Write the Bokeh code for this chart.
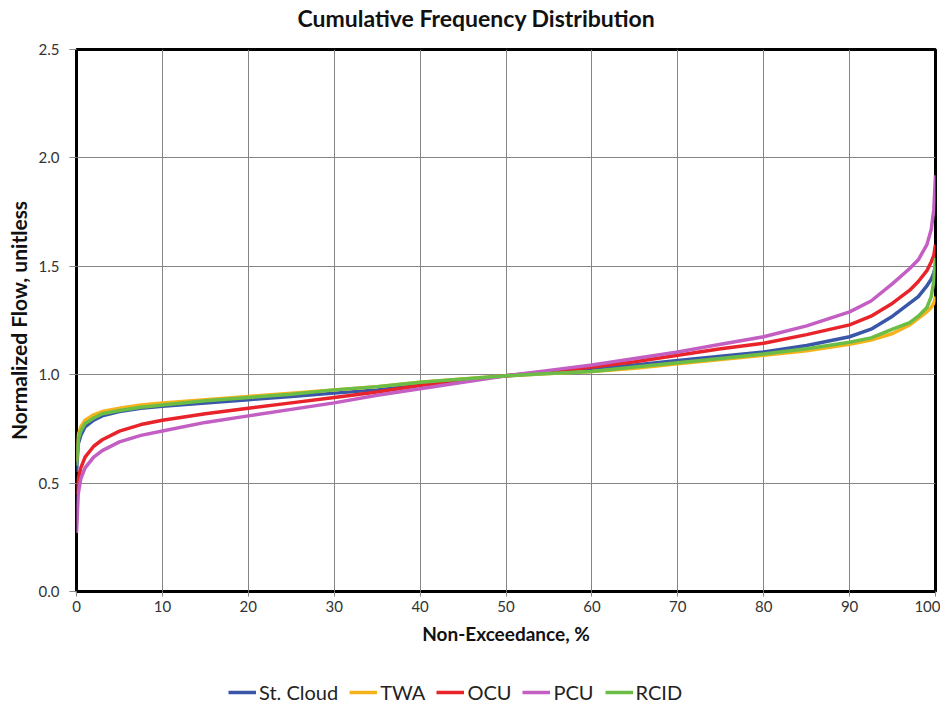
from bokeh.plotting import figure
from bokeh.layouts import column
from bokeh.models import Legend, LegendItem, NumeralTickFormatter, FixedTicker, Title
from bokeh.embed import file_html
from bokeh.resources import INLINE

pct = [0, 0.2, 0.5, 1, 2, 3, 5, 7.5, 10, 15, 20, 25, 30, 35, 40, 45, 50, 55, 60,
       65, 70, 75, 80, 85, 90, 92.5, 95, 97, 98, 99, 99.5, 99.8, 100]

st_cloud = [0.55, 0.68, 0.72, 0.76, 0.79, 0.81, 0.83, 0.845, 0.855, 0.87, 0.885, 0.90, 0.915,
            0.93, 0.955, 0.975, 0.995, 1.01, 1.025, 1.045, 1.065, 1.085, 1.105, 1.135, 1.175,
            1.21, 1.27, 1.33, 1.36, 1.41, 1.44, 1.47, 1.50]
twa = [0.60, 0.72, 0.76, 0.79, 0.815, 0.83, 0.845, 0.86, 0.87, 0.885, 0.90, 0.915, 0.93,
       0.945, 0.965, 0.98, 0.995, 1.005, 1.015, 1.03, 1.05, 1.07, 1.09, 1.11, 1.14,
       1.16, 1.19, 1.23, 1.26, 1.29, 1.31, 1.33, 1.36]
ocu = [0.45, 0.52, 0.57, 0.62, 0.67, 0.70, 0.74, 0.77, 0.79, 0.82, 0.845, 0.87, 0.895,
       0.92, 0.95, 0.975, 0.995, 1.015, 1.035, 1.06, 1.09, 1.12, 1.145, 1.185, 1.23,
       1.27, 1.33, 1.39, 1.43, 1.48, 1.52, 1.55, 1.60]
pcu = [0.27, 0.45, 0.52, 0.57, 0.62, 0.65, 0.69, 0.72, 0.74, 0.78, 0.81, 0.84, 0.87,
       0.905, 0.935, 0.965, 0.995, 1.02, 1.045, 1.075, 1.105, 1.14, 1.175, 1.225, 1.29,
       1.34, 1.42, 1.49, 1.53, 1.60, 1.67, 1.76, 1.92]
rcid = [0.58, 0.70, 0.74, 0.775, 0.80, 0.82, 0.835, 0.85, 0.86, 0.88, 0.895, 0.91, 0.93,
        0.945, 0.965, 0.98, 0.995, 1.005, 1.015, 1.035, 1.055, 1.075, 1.095, 1.12, 1.15,
        1.17, 1.21, 1.24, 1.27, 1.31, 1.36, 1.43, 1.54]

series_names = ["St. Cloud", "TWA", "OCU", "PCU", "RCID"]
series_vals = [st_cloud, twa, ocu, pcu, rcid]
colors = ["#3A56A8", "#F6B21B", "#E8232A", "#C35EC3", "#6CBD45"]

x_ticks = list(range(0, 101, 10))
y_ticks = [0.0, 0.5, 1.0, 1.5, 2.0, 2.5]

FONT = "Lato"

# ---------------- main chart ----------------
p = figure(width=940, height=652,
           x_range=(0, 100), y_range=(0, 2.5),
           output_backend="svg", toolbar_location=None,
           min_border_left=76, min_border_right=5, min_border_top=49, min_border_bottom=61)

p.add_layout(Title(text=" ", text_font_size="1px", standoff=15), "above")
p.add_layout(Title(text="Cumulative Frequency Distribution", align="left", offset=221,
                   standoff=0, text_font=FONT, text_font_size="23px",
                   text_font_style="bold", text_color="#111111"), "above")

p.outline_line_color = "black"
p.outline_line_width = 3
p.outline_line_alpha = 1

p.xaxis.ticker = FixedTicker(ticks=x_ticks)
p.yaxis.ticker = FixedTicker(ticks=y_ticks)
p.yaxis.formatter = NumeralTickFormatter(format="0.0")

for ax in (p.xaxis[0], p.yaxis[0]):
    ax.axis_line_color = None
    ax.major_tick_line_color = "#888888"
    ax.major_tick_in = 0
    ax.minor_tick_line_color = None
    ax.major_label_text_font = FONT
    ax.major_label_text_font_size = "15px"
    ax.major_label_text_color = "#333333"
    ax.axis_label_text_font = FONT
    ax.axis_label_text_font_style = "bold"
    ax.axis_label_text_color = "#111111"

p.xaxis.axis_label = "Non-Exceedance, %"
p.yaxis.axis_label = "Normalized Flow, unitless"
p.xaxis.axis_label_text_font_size = "19px"
p.yaxis.axis_label_text_font_size = "21px"
p.xaxis.major_tick_out = 5
p.yaxis.major_tick_out = 7
p.xaxis.major_label_standoff = 4
p.xaxis.axis_label_standoff = 7
p.yaxis.major_label_standoff = 10
p.yaxis.axis_label_standoff = 5

p.xgrid.grid_line_color = "#858585"
p.ygrid.grid_line_color = "#858585"
p.xgrid.grid_line_width = 1
p.ygrid.grid_line_width = 1

for name, vals, c in zip(series_names, series_vals, colors):
    p.line(pct, vals, line_color=c, line_width=3.5)

# ---------------- legend strip ----------------
leg = figure(width=940, height=52, x_range=(200, 300), y_range=(200, 300),
             output_backend="svg", toolbar_location=None,
             x_axis_type=None, y_axis_type=None,
             min_border_left=0, min_border_right=0, min_border_top=0, min_border_bottom=0)
leg.outline_line_color = None
leg.xgrid.visible = False
leg.ygrid.visible = False

items = []
for name, vals, c in zip(series_names, series_vals, colors):
    r = leg.line(pct, vals, line_color=c, line_width=3.5)
    items.append(LegendItem(label=name, renderers=[r]))

legend = Legend(items=items, orientation="horizontal", location=(152, 0),
                label_text_font=FONT, label_text_font_size="20px",
                label_text_color="#222222", glyph_width=28, glyph_height=20,
                spacing=11, border_line_color=None, background_fill_alpha=0,
                margin=0, padding=2, label_standoff=3)
leg.add_layout(legend, "center")

layout = column(p, leg, spacing=0)
open("out.html", "w").write(file_html(layout, INLINE))
